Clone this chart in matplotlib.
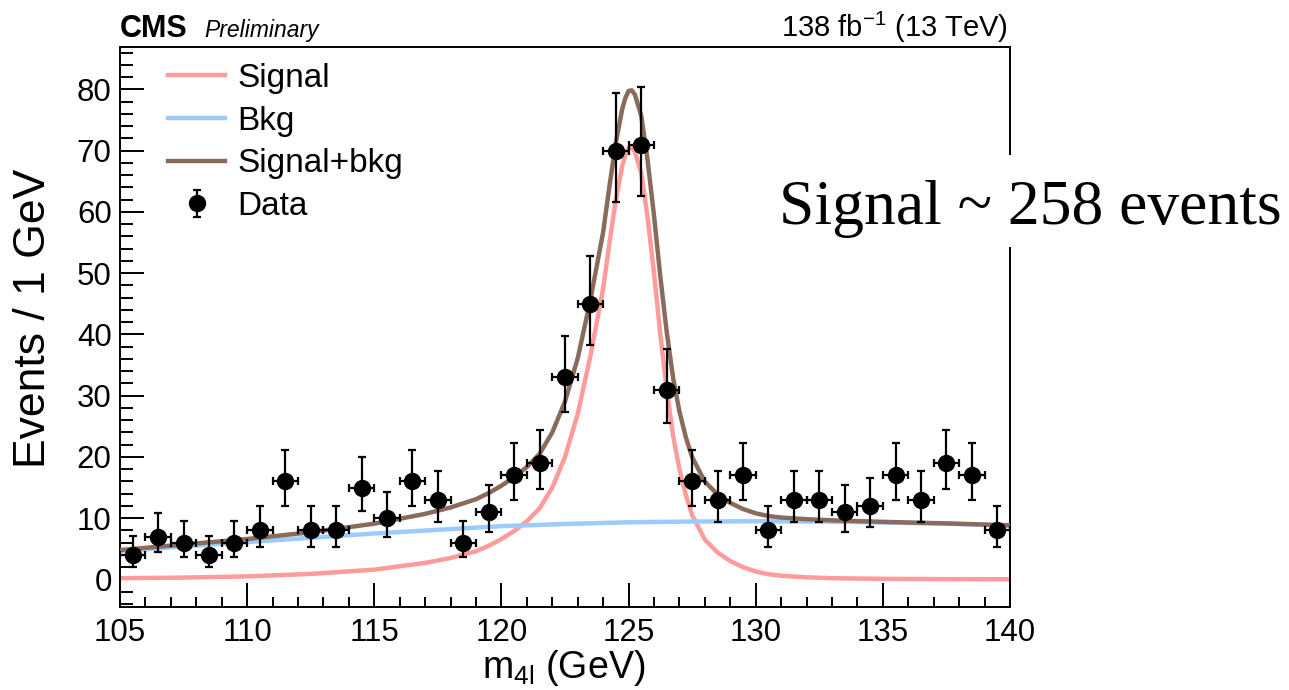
import numpy as np
import matplotlib
matplotlib.use("Agg")
import matplotlib.pyplot as plt
from matplotlib.patches import Rectangle
from matplotlib.legend_handler import HandlerErrorbar
from matplotlib.ticker import MultipleLocator

plt.rcParams['font.family'] = ['Liberation Sans', 'DejaVu Sans']
plt.rcParams['mathtext.fontset'] = 'custom'
plt.rcParams['mathtext.rm'] = 'Liberation Sans'
plt.rcParams['mathtext.it'] = 'Liberation Sans:italic'
plt.rcParams['mathtext.bf'] = 'Liberation Sans:bold'

# ---- data (binned counts, 1 GeV bins) ----
bin_centers = [105.5, 106.5, 107.5, 108.5, 109.5, 110.5, 111.5, 112.5, 113.5, 114.5,
               115.5, 116.5, 117.5, 118.5, 119.5, 120.5, 121.5, 122.5, 123.5, 124.5,
               125.5, 126.5, 127.5, 128.5, 129.5, 130.5, 131.5, 132.5, 133.5, 134.5,
               135.5, 136.5, 137.5, 138.5, 139.5]
counts = [4, 7, 6, 4, 6, 8, 16, 8, 8, 15,
          10, 16, 13, 6, 11, 17, 19, 33, 45, 70,
          71, 31, 16, 13, 17, 8, 13, 13, 11, 12,
          17, 13, 19, 17, 8]
err_lo = [1.91, 2.58, 2.38, 1.91, 2.38, 2.77, 3.94, 2.77, 2.77, 3.82,
          3.11, 3.94, 3.55, 2.38, 3.26, 4.06, 4.30, 5.71, 6.67, 8.35,
          8.41, 5.53, 3.94, 3.55, 4.06, 2.77, 3.55, 3.55, 3.26, 3.41,
          4.06, 3.55, 4.30, 4.06, 2.77]
err_hi = [3.16, 3.83, 3.62, 3.16, 3.62, 4.03, 5.10, 4.03, 4.03, 4.95,
          4.26, 5.10, 4.67, 3.62, 4.40, 5.20, 5.43, 6.81, 7.76, 9.41,
          9.47, 6.63, 5.10, 4.67, 5.20, 4.03, 4.67, 4.67, 4.40, 4.53,
          5.20, 4.67, 5.43, 5.20, 4.03]
bin_half_width = 0.5

# ---- fitted curves ----
curve_x = [105, 107.5, 110, 112.5, 115, 117, 118, 119, 119.5, 120,
           120.5, 121, 121.5, 122, 122.5, 123, 123.5, 124, 124.25, 124.5,
           124.75, 124.875, 125, 125.125, 125.25, 125.5, 125.75, 126, 126.25, 126.5,
           126.75, 127, 127.25, 127.5, 128, 128.5, 129, 129.5, 130, 130.5,
           131, 132, 133, 135, 137.5, 140]
signal = [0.2, 0.3, 0.5, 0.9, 1.6, 2.7, 3.5, 4.6, 5.5, 6.6,
          7.9, 9.5, 11.6, 15.0, 20.0, 27.0, 36.5, 47.5, 55.0, 62.0,
          67.5, 69.3, 70.4, 70.5, 69.8, 66.3, 59.0, 50.0, 40.0, 31.0,
          23.5, 18.0, 13.8, 10.5, 6.5, 4.4, 3.0, 2.0, 1.3, 0.85,
          0.6, 0.35, 0.2, 0.1, 0.05, 0.03]
sig_bkg = [4.8, 5.7, 6.6, 7.7, 9.1, 10.7, 11.75, 13.1, 14.1, 15.3,
           16.7, 18.35, 20.5, 24.0, 29.05, 36.1, 45.65, 56.7, 64.25, 71.3,
           76.8, 78.6, 79.73, 79.85, 79.15, 75.67, 68.38, 59.4, 49.41, 40.42,
           32.93, 27.44, 23.25, 19.95, 15.97, 13.88, 12.49, 11.5, 10.8, 10.35,
           10.1, 9.83, 9.65, 9.4, 9.15, 8.83]
bkg_x = [105, 107.5, 110, 112.5, 115, 117.5, 120, 122.5, 125, 127.5,
         130, 132.5, 135, 137.5, 140]
bkg = [4.6, 5.4, 6.1, 6.8, 7.5, 8.1, 8.7, 9.05, 9.33, 9.45,
       9.5, 9.45, 9.3, 9.1, 8.8]

y_ticks = [0, 10, 20, 30, 40, 50, 60, 70, 80]
x_ticks = [105, 110, 115, 120, 125, 130, 135, 140]

C_SIG = '#ff9b9b'
C_BKG = '#9bcbff'
C_SB = '#8a6a5b'

W, H = 1289, 690
fig = plt.figure(figsize=(W / 100, H / 100), dpi=100)
L, R, T, B = 120, 1010, 46.5, 607
ax = fig.add_axes([L / W, 1 - B / H, (R - L) / W, (B - T) / H])

lw = 3.2
l_sig, = ax.plot(curve_x, signal, color=C_SIG, lw=lw, zorder=2, label='Signal')
l_bkg, = ax.plot(bkg_x, bkg, color=C_BKG, lw=lw, zorder=2, label='Bkg')
l_sb, = ax.plot(curve_x, sig_bkg, color=C_SB, lw=lw, zorder=3, label='Signal+bkg')

eb = ax.errorbar(bin_centers, counts, yerr=[err_lo, err_hi],
                 xerr=bin_half_width, fmt='o', color='black', ms=11.5,
                 elinewidth=1.6, capsize=2.8, capthick=1.6, zorder=5,
                 label='Data')

ax.set_xlim(105, 140)
ax.set_ylim(-4.5, 87)
ax.set_xticks(x_ticks)
ax.set_yticks(y_ticks)
ax.xaxis.set_minor_locator(MultipleLocator(1))
ax.yaxis.set_minor_locator(MultipleLocator(2))
ax.tick_params(which='both', direction='in', top=False, right=False,
               labelsize=22.5, width=1.4)
ax.tick_params(axis='y', which='major', length=17, pad=6)
ax.tick_params(axis='y', which='minor', length=9)
ax.tick_params(axis='x', which='major', length=17, pad=8)
ax.tick_params(axis='x', which='minor', length=7)
for s in ax.spines.values():
    s.set_linewidth(1.4)

fig.text(564 / W, 1 - 678 / H, r'$\mathregular{m_{4l}}$ (GeV)', fontsize=27,
         ha='center', va='baseline')
fig.text(34 / W, 1 - 318 / H, 'Events / 1 GeV', fontsize=32, rotation=90,
         ha='center', va='center')

fig.text(120 / W, 1 - 37 / H, 'CMS', fontsize=22, fontweight='bold',
         ha='left', va='baseline')
fig.text(204 / W, 1 - 37 / H, 'Preliminary', fontsize=16.5, style='italic',
         ha='left', va='baseline')
fig.text(1008 / W, 1 - 37 / H, r'138 fb$^{\mathregular{-1}}$ (13 TeV)', fontsize=21,
         ha='right', va='baseline')

leg = ax.legend(handles=[l_sig, l_bkg, l_sb, eb], loc='upper left',
                bbox_to_anchor=(168 / W, 1 - 63 / H), bbox_transform=fig.transFigure,
                frameon=False, fontsize=24, handlelength=1.71, handletextpad=0.36,
                labelspacing=0.35, borderpad=0, borderaxespad=0,
                handler_map={type(eb): HandlerErrorbar(xerr_size=0, yerr_size=0.4)})

fig.patches.append(Rectangle((770 / W, 1 - 247 / H), (W - 770) / W, 92 / H,
                             transform=fig.transFigure, facecolor='white',
                             edgecolor='none', zorder=5))
fig.text(779 / W, 1 - 224 / H, 'Signal ~ 258 events', fontsize=45.8,
         family='Liberation Serif', ha='left', va='baseline', zorder=6)

fig.savefig('out.png', dpi=100)
